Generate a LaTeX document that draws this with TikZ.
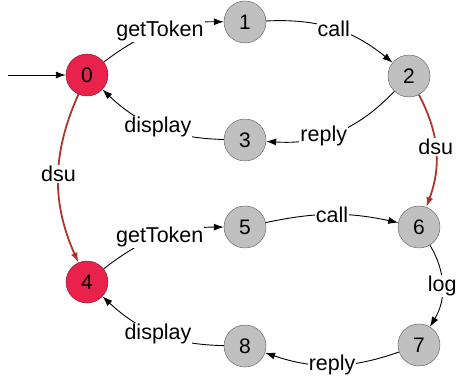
\documentclass[tikz,border=0pt]{standalone}
\usepackage{fontspec}
\setmainfont{Liberation Sans}
\usetikzlibrary{arrows.meta}
\definecolor{statered}{RGB}{232,34,74}
\definecolor{dsured}{RGB}{176,52,43}
\definecolor{stategray}{RGB}{192,192,192}

\begin{document}
\begin{tikzpicture}[x=1pt, y=1pt,
    state/.style={circle, draw=black!65, fill=stategray, minimum size=42pt,
                  inner sep=0pt, font=\fontsize{21}{25}\selectfont},
    hot/.style={state, fill=statered, draw=statered!55!black},
    trans/.style={-{Latex[length=10pt,width=7pt]}, line width=0.9pt},
    dsu/.style={trans, draw=dsured, line width=1.8pt},
    lbl/.style={fill=white, inner sep=1pt, font=\fontsize{21.5}{26}\selectfont}]
  \useasboundingbox (0,0) rectangle (461,-379);
  \node (s0) [hot] at (87,-75) {0};
  \node (s1) [state] at (245,-22) {1};
  \node (s2) [state] at (409,-76) {2};
  \node (s3) [state] at (245,-140) {3};
  \node (s4) [hot] at (87,-282) {4};
  \node (s5) [state] at (245,-227) {5};
  \node (s6) [state] at (419,-227) {6};
  \node (s7) [state] at (419,-345) {7};
  \node (s8) [state] at (245,-346) {8};
  \coordinate (init) at (8,-75);
  \draw[trans] (init) -- (s0);
  \draw[trans] (s0) edge [bend left=19] node [lbl] {getToken} (s1)
               (s1) edge [bend left=21] node [lbl] {call} (s2)
               (s2) edge [bend left=25] node [lbl, pos=0.6] {reply} (s3)
               (s3) edge [bend left=21] node [lbl] {display} (s0)
               (s4) edge [bend left=19] node [lbl] {getToken} (s5)
               (s5) edge [bend left=12] node [lbl] {call} (s6)
               (s6) edge [bend left=31] node [lbl] {log} (s7)
               (s7) edge [bend left=19] node [lbl] {reply} (s8)
               (s8) edge [bend left=21] node [lbl] {display} (s4);
  \draw[dsu] (s0) edge [bend right=24] node [lbl, pos=0.47] {dsu} (s4)
             (s2) edge [bend left=24] node [lbl, pos=0.47] {dsu} (s6);
\end{tikzpicture}
\end{document}
